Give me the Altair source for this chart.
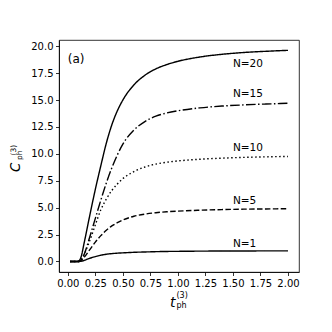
import altair as alt
import pandas as pd

# time grid (t_ph^(3))
t = [0.02, 0.05, 0.08, 0.10, 0.12, 0.15, 0.20, 0.25, 0.30, 0.35, 0.40, 0.45,
     0.50, 0.60, 0.70, 0.80, 0.90, 1.00, 1.20, 1.40, 1.60, 1.80, 2.00]
c1 = [0, 0, 0, 0, 0.02, 0.10, 0.30, 0.45, 0.58, 0.67, 0.73, 0.77,
      0.80, 0.85, 0.88, 0.91, 0.93, 0.94, 0.96, 0.97, 0.975, 0.98, 0.98]
c5 = [0, 0, 0, 0, 0.10, 0.40, 1.10, 1.80, 2.40, 2.90, 3.30, 3.60,
      3.85, 4.20, 4.40, 4.53, 4.62, 4.68, 4.76, 4.82, 4.86, 4.88, 4.90]
c10 = [0, 0, 0, 0, 0.15, 0.70, 1.95, 3.40, 4.80, 5.80, 6.60, 7.20,
       7.70, 8.35, 8.78, 9.05, 9.22, 9.34, 9.50, 9.60, 9.67, 9.72, 9.76]
c15 = [0, 0, 0, 0, 0.10, 0.70, 2.30, 4.00, 5.70, 7.30, 8.70, 9.90,
       10.90, 12.20, 13.00, 13.50, 13.80, 14.00, 14.27, 14.44, 14.55, 14.63, 14.70]
c20 = [0, 0, 0, 0.05, 0.40, 1.80, 4.30, 6.70, 8.90, 11.00, 12.70, 14.00,
       15.00, 16.40, 17.30, 17.90, 18.30, 18.60, 19.00, 19.25, 19.42, 19.53, 19.62]

series_names = ["N=1", "N=5", "N=10", "N=15", "N=20"]
series_vals = [c1, c5, c10, c15, c20]
dashes = [[1, 0], [5.5, 2.4], [1.5, 2.5], [9.6, 2.4, 1.5, 2.4], [1, 0]]

label_x = [1.5, 1.5, 1.5, 1.5, 1.5]
label_y = [1.34, 5.32, 10.3, 15.25, 18.1]

x_ticks = [0.0, 0.25, 0.5, 0.75, 1.0, 1.25, 1.5, 1.75, 2.0]
y_ticks = [0.0, 2.5, 5.0, 7.5, 10.0, 12.5, 15.0, 17.5, 20.0]

rows = []
for name, vals in zip(series_names, series_vals):
    for xi, yi in zip(t, vals):
        rows.append({"t": xi, "C": yi, "N": name})
df = pd.DataFrame(rows)
lab = pd.DataFrame({"t": label_x, "C": label_y, "N": series_names})

FONT = "DejaVu Sans"
xs = alt.Scale(domain=[-0.08, 2.1], nice=False, zero=False)
ys = alt.Scale(domain=[-0.98, 20.58], nice=False, zero=False)

xax = alt.Axis(values=x_ticks, format=".2f", title=None, grid=False,
               domainColor="black", domainWidth=0.8, tickColor="black",
               tickWidth=0.8, tickSize=3.5, labelPadding=2.5,
               labelFont=FONT, labelFontSize=10, labelColor="black",
               labelOverlap=False, labelFlush=False)
yax = alt.Axis(values=y_ticks, format=".1f", title=None, grid=False,
               domainColor="black", domainWidth=0.8, tickColor="black",
               tickWidth=0.8, tickSize=3.5, labelPadding=2.5,
               labelFont=FONT, labelFontSize=10, labelColor="black",
               labelOverlap=False)

lines = alt.Chart(df).mark_line(color="black", strokeWidth=1.4,
                                interpolate="monotone").encode(
    x=alt.X("t:Q", scale=xs, axis=xax),
    y=alt.Y("C:Q", scale=ys, axis=yax),
    detail="N:N",
    strokeDash=alt.StrokeDash("N:N", scale=alt.Scale(domain=series_names, range=dashes),
                              legend=None),
)

labels = alt.Chart(lab).mark_text(align="left", baseline="alphabetic", font=FONT,
                                  fontSize=10.5, color="black").encode(
    x=alt.X("t:Q", scale=xs, axis=xax), y=alt.Y("C:Q", scale=ys, axis=yax), text="N:N")

panel = alt.Chart(pd.DataFrame({"t": [0.0], "C": [18.4], "s": ["(a)"]})).mark_text(
    align="left", baseline="alphabetic", font=FONT, fontSize=12, color="black").encode(
    x=alt.X("t:Q", scale=xs, axis=xax), y=alt.Y("C:Q", scale=ys, axis=yax), text="s:N")

def piece(txt, x, y, size, italic=False, angle=0):
    kw = dict(align="left", baseline="alphabetic", font=FONT, fontSize=size,
              color="black", text=txt)
    if italic:
        kw["fontStyle"] = "italic"
    if angle:
        kw["angle"] = angle
    return alt.Chart(pd.DataFrame({"a": [0]})).mark_text(**kw).encode(
        x=alt.value(x), y=alt.value(y))

# axis titles built from pieces (main letter + superscript + subscript)
xt = piece("t", 111, 267, 14, italic=True)
xsup = piece("(3)", 117.5, 258, 8)
xsub = piece("ph", 117.5, 268, 8)
yc = piece("C", -39.5, 132, 13.5, italic=True, angle=270)
ysup = piece("(3)", -43.5, 115.5, 7.5, angle=270)
ysub = piece("ph", -37.5, 120, 7.5, angle=270)

chart = alt.layer(lines, labels, panel, xt, xsup, xsub, yc, ysup, ysub).properties(
    width=240, height=232,
    autosize=alt.AutoSizeParams(type="none"),
    padding={"left": 51, "top": 32, "right": 25, "bottom": 52},
).configure_view(stroke="black", strokeWidth=0.8)

chart.save("out.html", embed_options={"renderer": "svg", "actions": False})
